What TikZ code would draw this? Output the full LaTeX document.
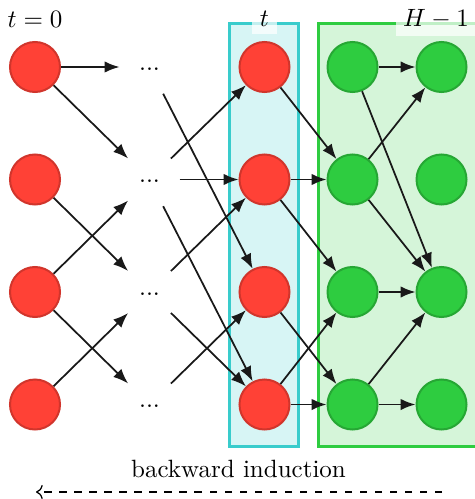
\documentclass[tikz,border=0pt]{standalone}
\usetikzlibrary{arrows.meta}
\definecolor{cred}{HTML}{FF4136}
\definecolor{cgreen}{HTML}{2ECC40}
\definecolor{cteal}{HTML}{39CCCC}
\begin{document}
\begin{tikzpicture}[x=0.4pt,y=-0.4pt,
  rnode/.style={circle,minimum size=20pt,inner sep=0pt,line width=0.8pt,draw=cred!82!black,fill=cred},
  gnode/.style={circle,minimum size=20pt,inner sep=0pt,line width=0.8pt,draw=cgreen!82!black,fill=cgreen},
  dnode/.style={circle,minimum size=24pt,inner sep=0pt,outer sep=0pt,text height=2.7pt,text depth=0pt},
  conn/.style={line width=0.7pt,draw=black!90,-{Latex[length=6pt,width=4.6pt]}},
  lbl/.style={fill=white,fill opacity=0.7,text opacity=1,inner sep=3pt},
  grp/.style={line width=1.2pt},
]
\useasboundingbox (0,0) rectangle (474,499);
\fill[white] (0,0) rectangle (474,499);
\draw[grp,draw=cteal,fill=cteal!20] (229.5,23.5) rectangle (298.5,446.5);
\draw[grp,draw=cgreen,fill=cgreen!20] (318.5,23.5) rectangle (490,446.5);
\node[lbl] (l0) at (35,19) {$t=0$};
\node[lbl] (lt) at (264.5,19) {$t$};
\node[lbl] (lh) at (436,19) {$H-1$};
\foreach \i/\y in {0/67,1/179.5,2/292,3/404.5} {
  \node[rnode] (a\i) at (35,\y) {};
  \node[dnode] (d\i) at (149.5,\y) {...};
  \node[rnode] (t\i) at (264.5,\y) {};
  \node[gnode] (g\i) at (352.5,\y) {};
  \node[gnode] (h\i) at (441.5,\y) {};
}
\foreach \s/\e in {a0/d0,a0/d1,a1/d2,a2/d1,a2/d3,a3/d2,
  d0/t2,d1/t0,d1/t1,d1/t3,d2/t1,d2/t3,d3/t2,
  t0/g1,t1/g1,t1/g2,t2/g3,t3/g2,t3/g3,
  g0/h0,g0/h2,g1/h0,g1/h2,g2/h2,g3/h2,g3/h3}
  \draw[conn] (\s) -- (\e);
\node (bi) at (238.5,468.5) {backward induction};
\coordinate (bs) at (442,492);
\coordinate (be) at (36,492);
\draw[dashed,->,line width=0.5pt] (bs) -- (be);
\end{tikzpicture}
\end{document}
